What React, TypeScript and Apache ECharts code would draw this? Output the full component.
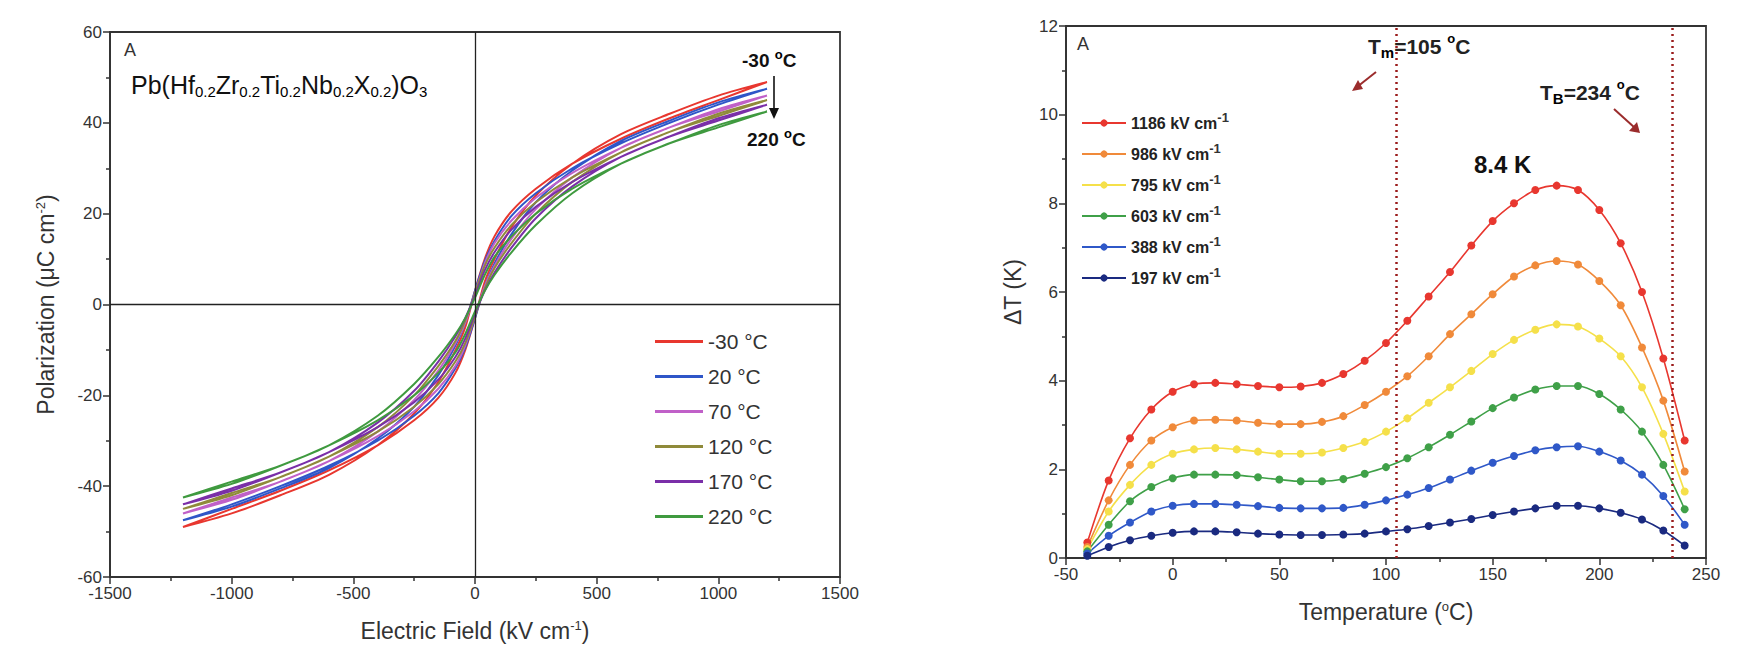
import React, { useEffect, useRef } from "react";
import * as echarts from "echarts";

// left panel: P-E loops
const fieldX = [-1200, -1000, -800, -600, -400, -250, -150, -80, -40, 0, 40, 80, 150, 250, 400, 600, 800, 1000, 1200];
const loopNames = ["-30 °C", "20 °C", "70 °C", "120 °C", "170 °C", "220 °C"];
const loopColors = ["#e8372f", "#2f56c8", "#c060c8", "#8f8a3a", "#7a2fa8", "#3f9a3f"];
// descending branch (from +E to -E), polarization values
const loopUpper = [
  [-49, -46, -42, -37.5, -31, -24, -17, -10, -5, 3, 10, 15, 20.5, 25.5, 31, 36.5, 41, 45, 49],
  [-47.5, -44.5, -40.5, -36, -29.5, -22.5, -15.5, -9, -4, 3, 9.5, 14, 19.5, 24.5, 30, 35.5, 40, 44, 47.5],
  [-46, -43, -39, -34.5, -28, -21, -14.5, -8.5, -4, 2.5, 9, 13.5, 18.5, 23.5, 29, 34.5, 39, 42.5, 46],
  [-45, -42, -38, -33.5, -27, -20, -13.5, -8, -3.5, 2.5, 8.5, 12.5, 17.5, 22.5, 28, 33.5, 38, 41.5, 45],
  [-44, -41, -37, -32.5, -26, -19, -12.5, -7, -3, 2, 7.5, 11.5, 16.5, 21.5, 27, 32.5, 37, 40.5, 44],
  [-42.5, -39.5, -35.5, -31, -24.5, -17.5, -11.5, -6.5, -3, 1.5, 6.5, 10.5, 15, 20, 25.5, 31, 35.5, 39, 42.5],
];

// right panel: electrocaloric ΔT
const temps = [-40, -30, -20, -10, 0, 10, 20, 30, 40, 50, 60, 70, 80, 90, 100, 110, 120, 130, 140, 150, 160, 170, 180, 190, 200, 210, 220, 230, 240];
const ecNames = ["1186", "986", "795", "603", "388", "197"];
const ecColors = ["#e8372f", "#f08a3a", "#f5e04a", "#3fa048", "#2f58c8", "#1a2a80"];
const ecData = [
  [0.35, 1.75, 2.7, 3.35, 3.75, 3.92, 3.95, 3.92, 3.88, 3.85, 3.87, 3.95, 4.15, 4.45, 4.85, 5.35, 5.9, 6.45, 7.05, 7.6, 8.0, 8.3, 8.4, 8.3, 7.85, 7.1, 6.0, 4.5, 2.65],
  [0.25, 1.3, 2.1, 2.65, 2.95, 3.1, 3.12, 3.1, 3.05, 3.02, 3.02, 3.07, 3.2, 3.45, 3.75, 4.1, 4.55, 5.05, 5.5, 5.95, 6.35, 6.6, 6.7, 6.62, 6.25, 5.7, 4.75, 3.55, 1.95],
  [0.2, 1.05, 1.65, 2.1, 2.35, 2.45, 2.48, 2.45, 2.4, 2.35, 2.35, 2.38, 2.48, 2.62, 2.85, 3.15, 3.5, 3.85, 4.22, 4.6, 4.92, 5.15, 5.27, 5.22, 4.95, 4.55, 3.85, 2.8, 1.5],
  [0.15, 0.75, 1.28, 1.6, 1.8, 1.88, 1.88, 1.87, 1.82, 1.77, 1.73, 1.73, 1.78, 1.9, 2.05, 2.25, 2.5, 2.78, 3.08, 3.38, 3.62, 3.8, 3.88, 3.88, 3.7, 3.35, 2.85, 2.1, 1.1],
  [0.1, 0.5, 0.8, 1.05, 1.18, 1.22, 1.22, 1.2, 1.17, 1.13, 1.12, 1.12, 1.13, 1.2, 1.3, 1.43, 1.58, 1.77, 1.97, 2.15, 2.3, 2.43, 2.5, 2.52, 2.4, 2.2, 1.88, 1.4, 0.75],
  [0.05, 0.25, 0.4, 0.5, 0.57, 0.6, 0.6, 0.58, 0.55, 0.53, 0.52, 0.52, 0.53, 0.55, 0.6, 0.65, 0.72, 0.8, 0.88, 0.97, 1.05, 1.12, 1.18, 1.18, 1.12, 1.02, 0.87, 0.62, 0.28],
];

const font = "Liberation Sans, Arial, sans-serif";

const axisBase = {
  axisLine: { onZero: false, lineStyle: { color: "#333", width: 1.8 } },
  axisTick: { inside: false, length: 7, lineStyle: { color: "#333", width: 1.5 } },
  minorTick: { show: true, splitNumber: 2, length: 4, lineStyle: { color: "#333", width: 1.5 } },
  axisLabel: { color: "#333", fontSize: 17, fontFamily: font, formatter: (v: number) => String(v) },
  splitLine: { show: false },
  nameLocation: "middle" as const,
};
const sup = { fontSize: 13, verticalAlign: "top", padding: [0, 0, 11, 0], fontFamily: font, color: "#333" };
const sub = { fontSize: 15, padding: [13, 0, 0, 0], fontFamily: font, color: "#111" };
const nameRich = { a: { fontSize: 23, fontFamily: font, color: "#333" }, s: sup };

const App = () => {
  const chartRef = useRef(null);

  useEffect(() => {
    const chartDom = chartRef.current;
    if (!chartDom) return;
    const myChart = echarts.init(chartDom, null, { renderer: "svg" });

    const loopSeries = loopNames.map((n, i) => {
      const up = fieldX.map((x, k) => [x, loopUpper[i][k]]).reverse();
      const down = fieldX.map((x, k) => [-x, -loopUpper[i][k]]).reverse();
      return {
        name: n, type: "line", xAxisIndex: 0, yAxisIndex: 0, showSymbol: false, smooth: 0.3,
        lineStyle: { color: loopColors[i], width: 2 }, itemStyle: { color: loopColors[i] },
        data: [...up, ...down],
      };
    });
    const ecSeries = ecNames.map((n, i) => ({
      name: n, type: "line", xAxisIndex: 1, yAxisIndex: 1, smooth: 0.3,
      symbol: "circle", symbolSize: 8,
      lineStyle: { color: ecColors[i], width: 1.6 }, itemStyle: { color: ecColors[i] },
      data: temps.map((t, k) => [t, ecData[i][k]]),
      markLine: i === 0 ? {
        symbol: "none", silent: true, label: { show: false },
        lineStyle: { color: "#9b1c1c", type: [2, 4], width: 2.5 },
        data: [{ xAxis: 105 }, { xAxis: 234 }],
      } : undefined,
    }));
    const zeroLines = {
      type: "line", xAxisIndex: 0, yAxisIndex: 0, data: [], silent: true,
      markLine: {
        symbol: "none", silent: true, label: { show: false },
        lineStyle: { color: "#222", type: "solid", width: 1.3 },
        data: [{ xAxis: 0 }, { yAxis: 0 }],
      },
    };

    const option = {
      animation: false,
      grid: [
        { left: 102, width: 730, top: 24, height: 545, show: true, borderColor: "#333", borderWidth: 1.8 },
        { left: 1058, width: 640, top: 18, height: 532, show: true, borderColor: "#333", borderWidth: 1.8 },
      ],
      xAxis: [
        { ...axisBase, type: "value", gridIndex: 0, min: -1500, max: 1500, interval: 500,
          name: "{a|Electric Field (kV cm}{s|-1}{a|)}", nameGap: 42, nameTextStyle: { rich: nameRich } },
        { ...axisBase, type: "value", gridIndex: 1, min: -50, max: 250, interval: 50,
          name: "{a|Temperature (}{s|o}{a|C)}", nameGap: 42, nameTextStyle: { rich: nameRich } },
      ],
      yAxis: [
        { ...axisBase, type: "value", gridIndex: 0, min: -60, max: 60, interval: 20,
          name: "{a|Polarization (μC cm}{s|-2}{a|)}", nameGap: 52, nameTextStyle: { rich: nameRich } },
        { ...axisBase, type: "value", gridIndex: 1, min: 0, max: 12, interval: 2,
          name: "ΔT (K)", nameGap: 42, nameTextStyle: { fontSize: 23, fontFamily: font, color: "#333" } },
      ],
      legend: [
        { data: loopNames, left: 642, top: 318, orient: "vertical", itemGap: 14, itemWidth: 48, itemHeight: 3,
          icon: "rect", textStyle: { fontSize: 21, fontFamily: font, color: "#333" } },
        { data: ecNames, left: 1068, top: 98, orient: "vertical", itemGap: 11, itemWidth: 44, itemHeight: 9,
          formatter: (n: string) => `{a|${n} kV cm}{s|-1}`,
          textStyle: { rich: { a: { fontSize: 16, fontWeight: "bold", fontFamily: font, color: "#222" }, s: { ...sup, fontWeight: "bold" } } } },
      ],
      series: [zeroLines, ...loopSeries, ...ecSeries],
      graphic: [
        { type: "text", left: 116, top: 33, style: { text: "A", fontSize: 18, fontFamily: font, fill: "#333" } },
        { type: "text", left: 123, top: 64, style: {
          text: "{a|Pb(Hf}{b|0.2}{a|Zr}{b|0.2}{a|Ti}{b|0.2}{a|Nb}{b|0.2}{a|X}{b|0.2}{a|)O}{b|3}",
          rich: { a: { fontSize: 25, fontFamily: font, fill: "#111" }, b: sub } } },
        { type: "text", left: 734, top: 40, style: { text: "{a|-30 }{s|o}{a|C}", rich: { a: { fontSize: 19, fontWeight: "bold", fontFamily: font, fill: "#111" }, s: { ...sup, fontWeight: "bold" } } } },
        { type: "line", shape: { x1: 766, y1: 68, x2: 766, y2: 104 }, style: { stroke: "#111", lineWidth: 1.6 } },
        { type: "polygon", shape: { points: [[761, 100], [771, 100], [766, 111]] }, style: { fill: "#111" } },
        { type: "text", left: 739, top: 119, style: { text: "{a|220 }{s|o}{a|C}", rich: { a: { fontSize: 19, fontWeight: "bold", fontFamily: font, fill: "#111" }, s: { ...sup, fontWeight: "bold" } } } },
        { type: "text", left: 1069, top: 27, style: { text: "A", fontSize: 18, fontFamily: font, fill: "#333" } },
        { type: "text", left: 1360, top: 24, style: { text: "{a|T}{b|m}{a|=105 }{s|o}{a|C}", rich: { a: { fontSize: 21, fontWeight: "bold", fontFamily: font, fill: "#222" }, b: { ...sub, fontWeight: "bold" }, s: { ...sup, fontWeight: "bold" } } } },
        { type: "line", shape: { x1: 1368, y1: 64, x2: 1349, y2: 79 }, style: { stroke: "#9b2c2c", lineWidth: 2 } },
        { type: "polygon", shape: { points: [[1344, 83], [1355, 81], [1350, 72]] }, style: { fill: "#9b2c2c" } },
        { type: "text", left: 1532, top: 70, style: { text: "{a|T}{b|B}{a|=234 }{s|o}{a|C}", rich: { a: { fontSize: 21, fontWeight: "bold", fontFamily: font, fill: "#222" }, b: { ...sub, fontWeight: "bold" }, s: { ...sup, fontWeight: "bold" } } } },
        { type: "line", shape: { x1: 1606, y1: 101, x2: 1627, y2: 120 }, style: { stroke: "#9b2c2c", lineWidth: 2 } },
        { type: "polygon", shape: { points: [[1632, 125], [1621, 123], [1629, 114]] }, style: { fill: "#9b2c2c" } },
        { type: "text", left: 1466, top: 144, style: { text: "8.4 K", fontSize: 24, fontWeight: "bold", fontFamily: font, fill: "#111" } },
      ],
    };

    myChart.setOption(option as any);

    const onResize = () => myChart.resize();
    window.addEventListener("resize", onResize, false);
    return () => {
      myChart.dispose();
      window.removeEventListener("resize", onResize, false);
    };
  }, []);

  return <div ref={chartRef} style={{ width: 1722, height: 642 }}></div>;
};

export default App;
